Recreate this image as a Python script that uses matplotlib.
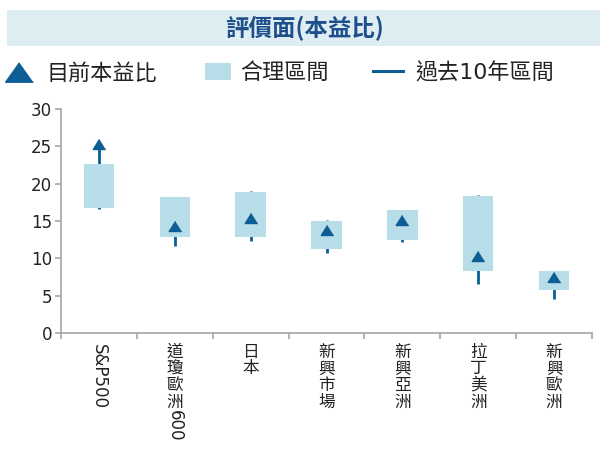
import re
import matplotlib.pyplot as plt
from matplotlib.patches import Rectangle
from matplotlib.lines import Line2D

plt.rcParams['font.family'] = ['DejaVu Sans', 'Noto Sans CJK TC']

# data
names = ['S&P500', '道瓊歐洲600', '日本', '新興市場', '新興亞洲', '拉丁美洲', '新興歐洲']
current = [25.3, 14.3, 15.35, 13.8, 15.15, 10.25, 7.45]
fair_lo = [16.8, 12.9, 12.8, 11.25, 12.5, 8.25, 5.7]
fair_hi = [22.7, 18.2, 18.9, 15.0, 16.5, 18.35, 8.25]
hist_lo = [16.6, 11.7, 12.3, 10.75, 12.2, 6.5, 4.55]
hist_hi = [25.3, 18.2, 19.0, 15.2, 16.5, 18.5, 8.25]
yticks = [0, 5, 10, 15, 20, 25, 30]

title = '評價面(本益比)'
leg_labels = ['目前本益比', '合理區間', '過去10年區間']

dark = '#0D5E94'
box_c = '#B7DDE8'
gray = '#A6A6A6'
txt_c = '#222222'
tri = [(0, 0.8), (-1, -0.8), (1, -0.8)]
tri_leg = [(0, 0.7), (-1, -0.7), (1, -0.7)]

W, H = 607, 462
fig = plt.figure(figsize=(W / 100, H / 100), dpi=100)


def fx(px):
    return px / W


def fy(py):
    return 1 - py / H


ax = fig.add_axes([fx(61), fy(333), (592 - 61) / W, (333 - 109) / H])

x = list(range(len(names)))
ax.vlines(x, hist_lo, hist_hi, color=dark, lw=2, zorder=1)
ax.bar(x, [h - l for h, l in zip(fair_hi, fair_lo)], bottom=fair_lo,
       width=0.4, color=box_c, zorder=2)
ax.plot(x, current, ls='none', marker=tri, ms=9, color=dark, zorder=3)

ax.set_xlim(-0.5, len(names) - 0.5)
ax.set_ylim(0, 30)
ax.set_yticks(yticks)
ax.set_xticks([i - 0.5 for i in range(len(names) + 1)])
ax.set_xticklabels([])
for s in ['top', 'right']:
    ax.spines[s].set_visible(False)
for s in ['left', 'bottom']:
    ax.spines[s].set_color(gray)
    ax.spines[s].set_linewidth(1.2)
ax.tick_params(color=gray, labelcolor=txt_c, length=4.5, width=1.2,
               labelsize=12, pad=2)

# vertical (top-to-bottom) category labels
fs = 12
renderer = fig.canvas.get_renderer()
for xi, name in zip(x, names):
    off = -11 * 0.72
    for run in re.findall(r'[\x00-\x7f]+|[^\x00-\x7f]', name):
        if run.isascii():
            t = ax.annotate(run, xy=(xi, 0), xycoords=ax.get_xaxis_transform(),
                            xytext=(0, off), textcoords='offset points',
                            rotation=-90, ha='center', va='top',
                            fontsize=fs, color=txt_c, family='DejaVu Sans')
            off -= t.get_window_extent(renderer).height * 0.72
        else:
            ax.annotate(run, xy=(xi, 0), xycoords=ax.get_xaxis_transform(),
                        xytext=(0, off), textcoords='offset points',
                        ha='center', va='top', fontsize=fs, color=txt_c,
                        family='Noto Sans CJK TC')
            off -= 16.5 * 0.72

# title band
fig.add_artist(Rectangle((fx(7), fy(45.5)), fx(600) - fx(7), fy(10) - fy(45.5),
                         transform=fig.transFigure, color='#DDEDF2', lw=0))
fig.text(fx(304), fy(28.5), title, ha='center', va='center', fontsize=16.9,
         weight='bold', color='#1E4F8B', family=['Noto Sans CJK TC', 'DejaVu Sans'])

# legend
fig.add_artist(Line2D([fx(19)], [fy(72)], transform=fig.transFigure, ls='none',
                      marker=tri_leg, ms=20, color=dark))
fig.add_artist(Rectangle((fx(205), fy(80)), fx(231) - fx(205), fy(63) - fy(80),
                         transform=fig.transFigure, color=box_c, lw=0))
fig.add_artist(Line2D([fx(373), fx(403)], [fy(71), fy(71)],
                      transform=fig.transFigure, color=dark, lw=2.2))
for px, lab in zip([47, 240, 415], leg_labels):
    fig.text(fx(px), fy(73), lab, ha='left', va='center', fontsize=15.9,
             color=txt_c)

fig.savefig('out.png', dpi=100)
